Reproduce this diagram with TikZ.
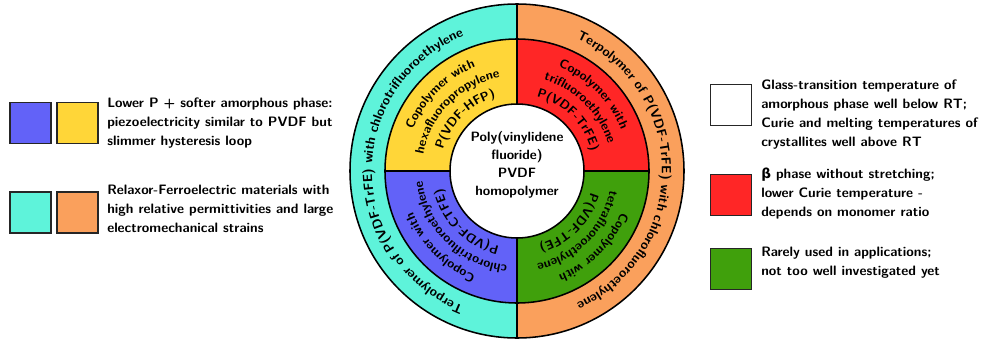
\documentclass[tikz,border=0pt]{standalone}
\usepackage{fontspec}
\newfontfamily\greekfont{DejaVu Sans}
\usepackage{tikz}
\usetikzlibrary{decorations.text}

\definecolor{terpcyan}{RGB}{94,243,218}
\definecolor{terporange}{RGB}{250,160,92}
\definecolor{hfpyellow}{RGB}{255,214,56}
\definecolor{trfered}{RGB}{255,38,38}
\definecolor{tfegreen}{RGB}{64,160,12}
\definecolor{ctfeblue}{RGB}{98,98,248}

\newcommand{\ringfont}{\sffamily\bfseries\fontsize{9}{11}\selectfont}
\newcommand{\terpfont}{\sffamily\bfseries\fontsize{9.4}{11}\selectfont}

\begin{document}
\begin{tikzpicture}[
    x=0.025cm,
    y=0.025cm,
    font=\sffamily\bfseries\fontsize{9.7}{13.5}\selectfont,
    swatch/.style={
        draw=black!85,
        line width=1.2pt,
        minimum size=1.02cm,
        inner sep=0pt
    },
    legtext/.style={
        anchor=west,
        align=left,
        inner sep=0pt
    },
    ringline/.style={draw=black, line width=1.1pt},
    ringtext/.style={
        decorate,
        decoration={text along path, text align=center, text={|\ringfont|#1}}
    },
    terptext/.style={
        decorate,
        decoration={text along path, text align=center, text={|\terpfont|#1}}
    }
]
\useasboundingbox (0,0) rectangle (981,338);
\coordinate (c) at (517,167);

% terpolymer ring
\fill[terpcyan] (c) -- ++(90:167) arc[start angle=90, end angle=270, radius=167] -- cycle;
\fill[terporange] (c) -- ++(90:167) arc[start angle=90, end angle=-90, radius=167] -- cycle;

% copolymer quadrants
\fill[hfpyellow] (c) -- ++(180:132) arc[start angle=180, end angle=90, radius=132] -- cycle;
\fill[trfered] (c) -- ++(90:132) arc[start angle=90, end angle=0, radius=132] -- cycle;
\fill[tfegreen] (c) -- ++(0:132) arc[start angle=0, end angle=-90, radius=132] -- cycle;
\fill[ctfeblue] (c) -- ++(-90:132) arc[start angle=-90, end angle=-180, radius=132] -- cycle;

% borders
\draw[ringline] (c) circle[radius=167];
\draw[ringline] (c) circle[radius=132];
\draw[ringline] (517,334) -- (517,0);
\draw[ringline] (385,167) -- (649,167);
\filldraw[ringline, fill=white] (c) circle[radius=67];

\node[align=center, inner sep=0pt, font=\sffamily\bfseries\fontsize{9.6}{12.7}\selectfont] (pvdf) at (517,173)
{Poly(vinylidene\\fluoride)\\PVDF\\homopolymer};

% outer ring texts
\path[terptext={Terpolymer of P(VDF-TrFE) with chlorotrifluoroethylene}]
    (c) ++(-90:145) arc[start angle=-90, end angle=-270, radius=145];
\path[terptext={Terpolymer of P(VDF-TrFE) with chlorofluoroethylene}]
    (c) ++(90:145) arc[start angle=90, end angle=-90, radius=145];

% copolymer texts
\path[ringtext={Copolymer with}] (c) ++(180:112) arc[start angle=180, end angle=90, radius=112];
\path[ringtext={hexafluoropropylene}] (c) ++(180:95) arc[start angle=180, end angle=90, radius=95];
\path[ringtext={P(VDF-HFP)}] (c) ++(180:77) arc[start angle=180, end angle=90, radius=77];

\path[ringtext={Copolymer with}] (c) ++(90:112) arc[start angle=90, end angle=0, radius=112];
\path[ringtext={trifluoroethylene}] (c) ++(90:95) arc[start angle=90, end angle=0, radius=95];
\path[ringtext={P(VDF-TrFE)}] (c) ++(90:77) arc[start angle=90, end angle=0, radius=77];

\path[ringtext={Copolymer with}] (c) ++(0:112) arc[start angle=0, end angle=-90, radius=112];
\path[ringtext={tetrafluoroethylene}] (c) ++(0:95) arc[start angle=0, end angle=-90, radius=95];
\path[ringtext={P(VDF-TFE)}] (c) ++(0:77) arc[start angle=0, end angle=-90, radius=77];

\path[ringtext={Copolymer with}] (c) ++(-90:112) arc[start angle=-90, end angle=-180, radius=112];
\path[ringtext={chlorotrifluoroethylene}] (c) ++(-90:95) arc[start angle=-90, end angle=-180, radius=95];
\path[ringtext={P(VDF-CTFE)}] (c) ++(-90:77) arc[start angle=-90, end angle=-180, radius=77];

% left legend
\node[swatch, fill=ctfeblue] (blueSw) at (30.5,215) {};
\node[swatch, fill=hfpyellow] (yellowSw) at (77.5,215) {};
\node[legtext] (softer) at (107,215)
{Lower P + softer amorphous phase:\\
piezoelectricity similar to PVDF but\\
slimmer hysteresis loop};

\node[swatch, fill=terpcyan] (cyanSw) at (30.5,125.5) {};
\node[swatch, fill=terporange] (orangeSw) at (77.5,125.5) {};
\node[legtext] (relaxor) at (107,129)
{Relaxor-Ferroelectric materials with\\
high relative permittivities and large\\
electromechanical strains};

% right legend
\node[swatch, fill=white] (whiteSw) at (731,233) {};
\node[legtext] (glass) at (761,223.5)
{Glass-transition temperature of\\
amorphous phase well below RT;\\
Curie and melting temperatures of\\
crystallites well above RT};

\node[swatch, fill=trfered] (redSw) at (731,143) {};
\node[legtext] (beta) at (761,144)
{{\greekfont\bfseries β} phase without stretching;\\
lower Curie temperature -\\
depends on monomer ratio};

\node[swatch, fill=tfegreen] (greenSw) at (731,69) {};
\node[legtext] (rare) at (761,75)
{Rarely used in applications;\\
not too well investigated yet};

\end{tikzpicture}
\end{document}
